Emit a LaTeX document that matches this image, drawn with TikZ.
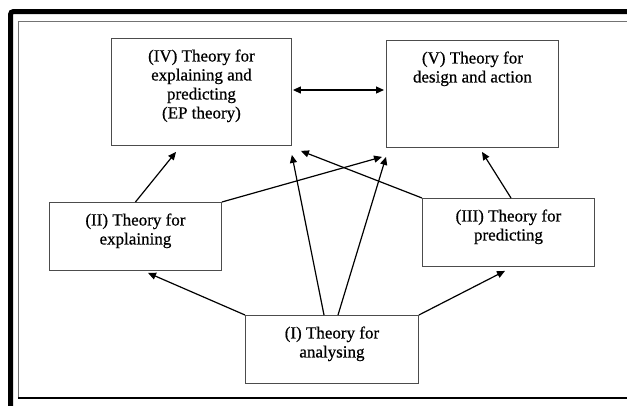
\documentclass[tikz,border=0pt]{standalone}
\usepackage{fontspec}
\setmainfont{Liberation Serif}
\newfontfamily\boxfont[FakeBold=0.6]{Liberation Serif}
\usetikzlibrary{arrows.meta,calc}
\tikzset{
  tbox/.style={draw=black!70, line width=0.9pt, inner sep=0pt, anchor=north west},
  conn/.style={line width=1.2pt, -{Triangle[length=8pt,width=7pt]}},
  bconn/.style={line width=1.2pt, {Triangle[length=8pt,width=7pt]}-{Triangle[length=8pt,width=7pt]}}
}
\newcommand{\boxtext}[3]{\parbox[c][#2pt][t]{#1pt}{\centering\boxfont\fontsize{17}{19}\selectfont\rule{0pt}{23pt}#3}}
\begin{document}
\begin{tikzpicture}[x=1pt,y=-1pt]
\useasboundingbox (0,0) rectangle (627,405);
\clip (0,0) rectangle (627,405);
\fill[white] (0,0) rectangle (627,405);
% frame
\draw[line width=5pt, rounded corners=3pt] (10.5,11.5) rectangle (660,430);
\draw[black!55, line width=1pt] (18,398) -- (18,21) -- (640,21);
\draw[line width=1.8pt] (18,398) -- (640,398);
% boxes
\node[tbox] (IV) at (111,38) {\boxtext{180}{107}{(IV) Theory for\\explaining and\\predicting\\(EP theory)}};
\node[tbox] (V) at (386,40) {\boxtext{172}{107}{(V) Theory for\\design and action}};
\node[tbox] (II) at (49,202) {\boxtext{172}{68}{(II) Theory for\\explaining}};
\node[tbox] (III) at (422,198) {\boxtext{172}{68}{(III) Theory for\\predicting}};
\node[tbox] (I) at (245,315) {\boxtext{173}{68}{(I) Theory for\\analysing}};
% connectors
\draw[bconn] ($(IV.north east)+(1,52)$) -- ($(V.north west)+(-2,50)$);
\draw[conn] (II.north) -- ($(IV.south west)+(65,6)$);
\draw[conn] (II.north east) -- ($(V.south west)+(-4,9)$);
\draw[conn] ($(I.north west)+(79,0)$) -- ($(IV.south east)+(0,9)$);
\draw[conn] ($(I.north west)+(93,0)$) -- ($(V.south west)+(0,9)$);
\draw[conn] (III.north west) -- ($(IV.south east)+(9,5)$);
\draw[conn] ($(III.north west)+(89,0)$) -- ($(V.south west)+(96,4)$);
\draw[conn] (I.north west) -- ($(II.south west)+(99,2)$);
\draw[conn] (I.north east) -- ($(III.south west)+(83,4)$);
\end{tikzpicture}
\end{document}
